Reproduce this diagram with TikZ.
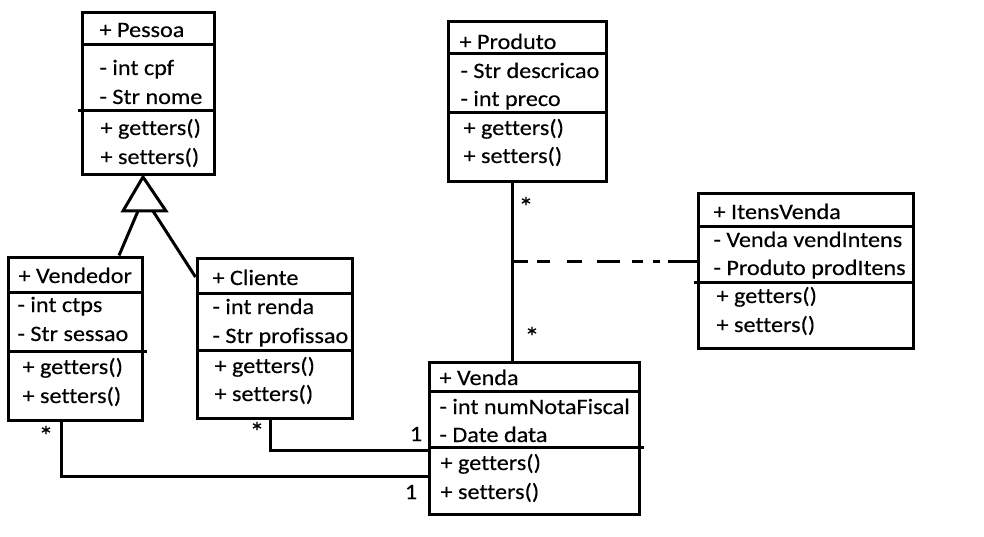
\documentclass[tikz,border=0pt]{standalone}
\usepackage{fontspec}
\setmainfont[Ligatures=CommonOff, FakeStretch=1.1, FakeBold=0.3]{Carlito}
\begin{document}
\begin{tikzpicture}[x=1pt,y=-1pt,
  line width=3pt,
  cls/.style={draw, line width=3pt, rectangle, inner sep=0pt},
  txt/.style={anchor=base west, inner sep=0pt, font=\fontsize{22}{22}\selectfont},
  mult/.style={anchor=base, inner sep=0pt, font=\fontsize{22}{22}\selectfont},
  star/.style={anchor=base, inner sep=0pt, font=\fontsize{27}{27}\selectfont}]
\useasboundingbox (0,0) rectangle (984,537);
% classes
\node[cls, minimum width=132pt, minimum height=162pt] (pessoa) at (148,94) {};
\node[cls, minimum width=134pt, minimum height=163pt] (vendedor) at (75,338.5) {};
\node[cls, minimum width=155pt, minimum height=160pt] (cliente) at (274.5,338) {};
\node[cls, minimum width=158pt, minimum height=160pt] (produto) at (527,102) {};
\node[cls, minimum width=215pt, minimum height=154pt] (itens) at (805.5,271) {};
\node[cls, minimum width=210pt, minimum height=152pt] (venda) at (534,438) {};
% dividers
\draw (pessoa.west |- 0,45) -- (pessoa.east |- 0,45);
\draw ([xshift=-3pt]pessoa.west |- 0,111) -- (pessoa.east |- 0,111);
\draw (vendedor.west |- 0,292) -- (vendedor.east |- 0,292);
\draw (vendedor.west |- 0,351) -- ([xshift=3pt]vendedor.east |- 0,351);
\draw (cliente.west |- 0,293) -- (cliente.east |- 0,293);
\draw (cliente.west |- 0,350) -- (cliente.east |- 0,350);
\draw (produto.west |- 0,54) -- (produto.east |- 0,54);
\draw (produto.west |- 0,113) -- (produto.east |- 0,113);
\draw (itens.west |- 0,227) -- (itens.east |- 0,227);
\draw ([xshift=-3pt]itens.west |- 0,282) -- (itens.east |- 0,282);
\draw (venda.west |- 0,391) -- (venda.east |- 0,391);
\draw (venda.west |- 0,447) -- ([xshift=3pt]venda.east |- 0,447);
% texts Pessoa
\node[txt] (p1) at (98,37) {+ Pessoa};
\node[txt] (p2) at (98,75) {- int cpf};
\node[txt] (p3) at (98,104) {- Str nome};
\node[txt] (p4) at (99,135) {+ getters()};
\node[txt] (p5) at (99,164) {+ setters()};
% Vendedor
\node[txt] (v1) at (17,283) {+ Vendedor};
\node[txt] (v2) at (16,312) {- int ctps};
\node[txt] (v3) at (16,341) {- Str sessao};
\node[txt] (v4) at (21,374) {+ getters()};
\node[txt] (v5) at (21,403) {+ setters()};
% Cliente
\node[txt] (c1) at (211,285) {+ Cliente};
\node[txt] (c2) at (211,314) {- int renda};
\node[txt] (c3) at (211,343) {- Str profissao};
\node[txt] (c4) at (213,373) {+ getters()};
\node[txt] (c5) at (213,401) {+ setters()};
% Produto
\node[txt] (r1) at (458,49) {+ Produto};
\node[txt] (r2) at (459,78) {- Str descricao};
\node[txt] (r3) at (459,106) {- int preco};
\node[txt] (r4) at (462,135) {+ getters()};
\node[txt] (r5) at (462,163) {+ setters()};
% ItensVenda
\node[txt] (i1) at (712,219) {+ ItensVenda};
\node[txt] (i2) at (712,247) {- Venda vendIntens};
\node[txt] (i3) at (712,275) {- Produto prodItens};
\node[txt] (i4) at (715,303) {+ getters()};
\node[txt] (i5) at (715,332) {+ setters()};
% Venda
\node[txt] (e1) at (438,385) {+ Venda};
\node[txt] (e2) at (438,414) {- int numNotaFiscal};
\node[txt] (e3) at (438,442) {- Date data};
\node[txt] (e4) at (439,470) {+ getters()};
\node[txt] (e5) at (439,499) {+ setters()};
% generalization
\coordinate (apex) at (143,177);
\coordinate (bl) at (123,211);
\coordinate (br) at (166,211);
\draw[line join=miter] (apex) -- (bl) -- (br) -- cycle;
\draw (138,211) -- (vendedor.north -| 119,0);
\draw (153,211) -- (cliente.west |- 0,277);
% associations
\draw (produto.south -| 512,0) -- (venda.north -| 512,0);
\draw (vendedor.south -| 61,0) -- (61,476) -- (venda.west |- 0,476);
\draw (cliente.south -| 270,0) -- (270,450) -- (venda.west |- 0,450);
% association class dashed link
\coordinate (j) at (512,261);
\draw ([xshift=1pt]j) -- ++(15,0);
\draw (537,261) -- (550,261);
\draw (567,261) -- (582,261);
\draw (597,261) -- (620,261);
\draw (632,261) -- (643,261);
\draw (653,261) -- (660,261);
\draw (668,261) -- (itens.west |- 0,261);
% multiplicities
\node[star] (m1) at (46,445) {*};
\node[star] (m2) at (257,441) {*};
\node[star] (m3) at (526,216) {*};
\node[star] (m4) at (532,346) {*};
\node[mult] (m5) at (416,441) {1};
\node[mult] (m6) at (411,499) {1};
\end{tikzpicture}
\end{document}
